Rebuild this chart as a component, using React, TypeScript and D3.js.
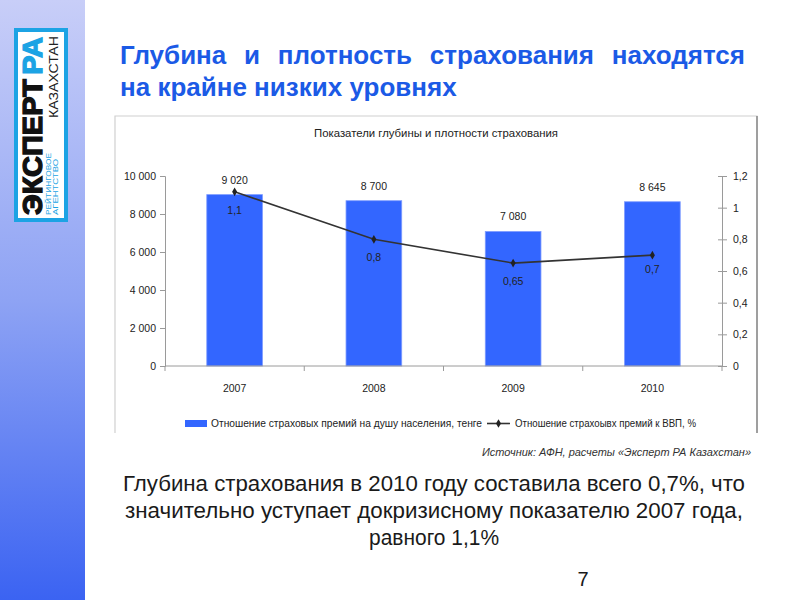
import * as d3 from 'd3';
import React, { useEffect, useRef } from 'react';

const years = ['2007', '2008', '2009', '2010'];
const premiumsPerCapita = [9020, 8700, 7080, 8645];
const premiumsToGdp = [1.1, 0.8, 0.65, 0.7];
const leftTicks = [0, 2000, 4000, 6000, 8000, 10000];
const rightTicks = [0, 0.2, 0.4, 0.6, 0.8, 1, 1.2];

const slideTitle = ['Глубина и плотность страхования находятся', 'на крайне низких уровнях'];
const chartTitle = 'Показатели глубины и плотности страхования';
const legendBar = 'Отношение страховых премий на душу населения, тенге';
const legendLine = 'Отношение страхоывх премий к ВВП, %';
const sourceNote = 'Источник: АФН, расчеты «Эксперт РА Казахстан»';
const bodyText = [
  'Глубина страхования в 2010 году составила всего 0,7%, что',
  'значительно уступает докризисному показателю 2007 года,',
  'равного 1,1%',
];
const pageNumber = '7';

const W = 800;
const H = 600;
const sans = '"Liberation Sans", Arial, sans-serif';

const ru = d3.formatLocale({ decimal: ',', thousands: '\u00a0', grouping: [3], currency: ['', ''] });
const fmtInt = ru.format(',d');
const fmtDec = (v: number) => ru.format('~g')(+v.toFixed(2));

export default function App() {
  const svgRef = useRef<SVGSVGElement>(null);

  useEffect(() => {
    if (!svgRef.current) return;
    const svg = d3.select(svgRef.current);
    svg.selectAll('*').remove();

    // left gradient panel
    const defs = svg.append('defs');
    const grad = defs.append('linearGradient').attr('id', 'side').attr('x1', 0).attr('y1', 0).attr('x2', 0).attr('y2', 1);
    grad.append('stop').attr('offset', '0%').attr('stop-color', '#c8cef8');
    grad.append('stop').attr('offset', '50%').attr('stop-color', '#8ea3f4');
    grad.append('stop').attr('offset', '100%').attr('stop-color', '#3b63f2');
    svg.append('rect').attr('width', W).attr('height', H).attr('fill', '#fff');
    svg.append('rect').attr('x', 0).attr('y', 0).attr('width', 85).attr('height', H).attr('fill', 'url(#side)');

    // logo
    const cyan = '#1ca3e4';
    const logo = svg.append('g');
    logo.append('rect').attr('x', 16).attr('y', 30).attr('width', 50).attr('height', 190)
      .attr('fill', '#fff').attr('stroke', cyan).attr('stroke-width', 4);
    const big = logo.append('text').attr('transform', 'translate(42,215) rotate(-90)')
      .attr('font-family', sans).attr('font-weight', 900).attr('font-size', 27)
      .attr('textLength', 178).attr('lengthAdjust', 'spacingAndGlyphs')
      .attr('fill', '#111').attr('stroke', '#111').attr('stroke-width', 1.3);
    big.append('tspan').text('ЭКСПЕРТ');
    big.append('tspan').attr('fill', cyan).attr('stroke', cyan).attr('dx', 4).text('РА');
    logo.append('text').attr('transform', 'translate(58,118) rotate(-90)')
      .attr('font-family', sans).attr('font-size', 13).attr('fill', '#222')
      .attr('textLength', 82).attr('lengthAdjust', 'spacingAndGlyphs').text('КАЗАХСТАН');
    logo.append('text').attr('transform', 'translate(51,215) rotate(-90)')
      .attr('font-family', sans).attr('font-size', 7).attr('fill', cyan)
      .attr('textLength', 62).attr('lengthAdjust', 'spacingAndGlyphs').text('РЕЙТИНГОВОЕ');
    logo.append('text').attr('transform', 'translate(58,215) rotate(-90)')
      .attr('font-family', sans).attr('font-size', 7).attr('fill', cyan)
      .attr('textLength', 56).attr('lengthAdjust', 'spacingAndGlyphs').text('АГЕНТСТВО');

    // slide title: first line justified between 120 and 745
    const titleBlue = '#1b5ae6';
    const t1 = svg.append('text').attr('x', 120).attr('y', 64).attr('font-family', sans).attr('font-weight', 'bold')
      .attr('font-size', 26).attr('fill', titleBlue).text(slideTitle[0]);
    const natural = (t1.node() as SVGTextElement).getComputedTextLength();
    const gaps = slideTitle[0].split(' ').length - 1;
    t1.attr('word-spacing', (625 - natural) / gaps);
    svg.append('text').attr('x', 120).attr('y', 96).attr('font-family', sans).attr('font-weight', 'bold')
      .attr('font-size', 26).attr('fill', titleBlue).text(slideTitle[1]);

    // chart frame
    svg.append('path').attr('d', 'M115,433V116H757V433').attr('fill', 'none').attr('stroke', '#d0d0d0').attr('stroke-width', 1.2);
    svg.append('line').attr('x1', 757).attr('x2', 757).attr('y1', 116).attr('y2', 433).attr('stroke', '#888').attr('stroke-width', 1.5);

    svg.append('text').attr('x', 436).attr('y', 137).attr('text-anchor', 'middle').attr('font-family', sans)
      .attr('font-size', 11).attr('fill', '#222').attr('textLength', 244).attr('lengthAdjust', 'spacingAndGlyphs')
      .text(chartTitle);

    const x = d3.scaleBand().domain(years).range([165, 722]).paddingInner(0.6).paddingOuter(0.3);
    const yL = d3.scaleLinear().domain([0, 10000]).range([366, 176]);
    const yR = d3.scaleLinear().domain([0, 1.2]).range([366, 176]);
    const step = x.step();
    const bw = x.bandwidth();
    const cx = (d: string) => (x(d) || 0) + bw / 2;
    const axisColor = '#9a9a9a';

    const g = svg.append('g');

    // left axis
    const la = g.append('g').attr('transform', 'translate(165,0)')
      .call(d3.axisLeft(yL).tickValues(leftTicks).tickSize(5).tickPadding(4).tickFormat(d => fmtInt(d as number)));
    la.select('.domain').attr('stroke', axisColor);
    la.selectAll('.tick line').attr('stroke', axisColor);
    la.selectAll('text').attr('font-family', sans).attr('font-size', 10.5).attr('fill', '#222');

    // right axis
    const ra = g.append('g').attr('transform', 'translate(722,0)')
      .call(d3.axisRight(yR).tickValues(rightTicks).tickSize(5).tickPadding(6).tickFormat(d => fmtDec(d as number)));
    ra.select('.domain').attr('stroke', axisColor);
    ra.selectAll('.tick line').attr('stroke', axisColor).attr('x1', -4);
    ra.selectAll('text').attr('font-family', sans).attr('font-size', 10.5).attr('fill', '#222');

    // bars
    g.selectAll('rect.bar').data(years).join('rect').attr('class', 'bar')
      .attr('x', d => x(d) || 0).attr('width', bw)
      .attr('y', (d, i) => yL(premiumsPerCapita[i])).attr('height', (d, i) => yL(0) - yL(premiumsPerCapita[i]))
      .attr('fill', '#3366ff').attr('stroke', '#7f9cff').attr('stroke-width', 0.8);

    g.selectAll('text.barlab').data(years).join('text').attr('class', 'barlab')
      .attr('x', cx).attr('y', (d, i) => yL(premiumsPerCapita[i]) - 11)
      .attr('text-anchor', 'middle').attr('font-family', sans).attr('font-size', 10.5).attr('fill', '#222')
      .text((d, i) => fmtInt(premiumsPerCapita[i]));

    // bottom axis
    g.append('line').attr('x1', 165).attr('x2', 722).attr('y1', 366).attr('y2', 366).attr('stroke', axisColor);
    const bounds = years.map(d => cx(d) - step / 2).concat([cx(years[years.length - 1]) + step / 2]);
    g.selectAll('line.xt').data(bounds).join('line').attr('class', 'xt')
      .attr('x1', d => d).attr('x2', d => d).attr('y1', 366).attr('y2', 371).attr('stroke', axisColor);
    g.selectAll('text.xl').data(years).join('text').attr('class', 'xl')
      .attr('x', cx).attr('y', 392).attr('text-anchor', 'middle').attr('font-family', sans)
      .attr('font-size', 10.5).attr('fill', '#222').text(d => d);

    // line series
    const line = d3.line<number>().x((v, i) => cx(years[i])).y(v => yR(v));
    g.append('path').datum(premiumsToGdp).attr('d', line).attr('fill', 'none').attr('stroke', '#333').attr('stroke-width', 1.6);
    const diamond = d3.symbol().type(d3.symbolDiamond).size(22);
    g.selectAll('path.mk').data(premiumsToGdp).join('path').attr('class', 'mk')
      .attr('transform', (v, i) => `translate(${cx(years[i])},${yR(v)})`).attr('d', diamond()).attr('fill', '#222');
    g.selectAll('text.ll').data(premiumsToGdp).join('text').attr('class', 'll')
      .attr('x', (v, i) => cx(years[i])).attr('y', (v, i) => yR(v) + (i === 3 ? 18 : 22))
      .attr('text-anchor', 'middle').attr('font-family', sans).attr('font-size', 10.5).attr('fill', '#222')
      .text(v => fmtDec(v));

    // legend
    const lg = g.append('g').attr('font-family', sans).attr('font-size', 10.5).attr('fill', '#222');
    lg.append('rect').attr('x', 185).attr('y', 420).attr('width', 22).attr('height', 7).attr('fill', '#3366ff');
    lg.append('text').attr('x', 211).attr('y', 427).attr('textLength', 271).attr('lengthAdjust', 'spacingAndGlyphs').text(legendBar);
    lg.append('line').attr('x1', 487).attr('x2', 510).attr('y1', 423.5).attr('y2', 423.5).attr('stroke', '#333').attr('stroke-width', 1.6);
    lg.append('path').attr('transform', 'translate(498.5,423.5)').attr('d', diamond()).attr('fill', '#222');
    lg.append('text').attr('x', 515).attr('y', 427).attr('textLength', 181).attr('lengthAdjust', 'spacingAndGlyphs').text(legendLine);

    // source
    svg.append('text').attr('x', 751).attr('y', 456).attr('text-anchor', 'end').attr('font-family', sans)
      .attr('font-style', 'italic').attr('font-size', 11).attr('fill', '#333')
      .attr('textLength', 269).attr('lengthAdjust', 'spacingAndGlyphs').text(sourceNote);

    // body text
    const bodyWidths = [622, 618, 130];
    svg.selectAll('text.body').data(bodyText).join('text').attr('class', 'body')
      .attr('x', 434).attr('y', (d, i) => 491 + i * 27).attr('text-anchor', 'middle')
      .attr('font-family', sans).attr('font-size', 22).attr('fill', '#1a1a1a')
      .attr('textLength', (d, i) => bodyWidths[i]).attr('lengthAdjust', 'spacingAndGlyphs').text(d => d);

    svg.append('text').attr('x', 583).attr('y', 586).attr('text-anchor', 'middle').attr('font-family', sans)
      .attr('font-size', 20).attr('fill', '#1a1a1a').text(pageNumber);
  }, []);

  return <svg ref={svgRef} width={W} height={H} style={{ position: 'absolute', left: 0, top: 0 }} />;
}
